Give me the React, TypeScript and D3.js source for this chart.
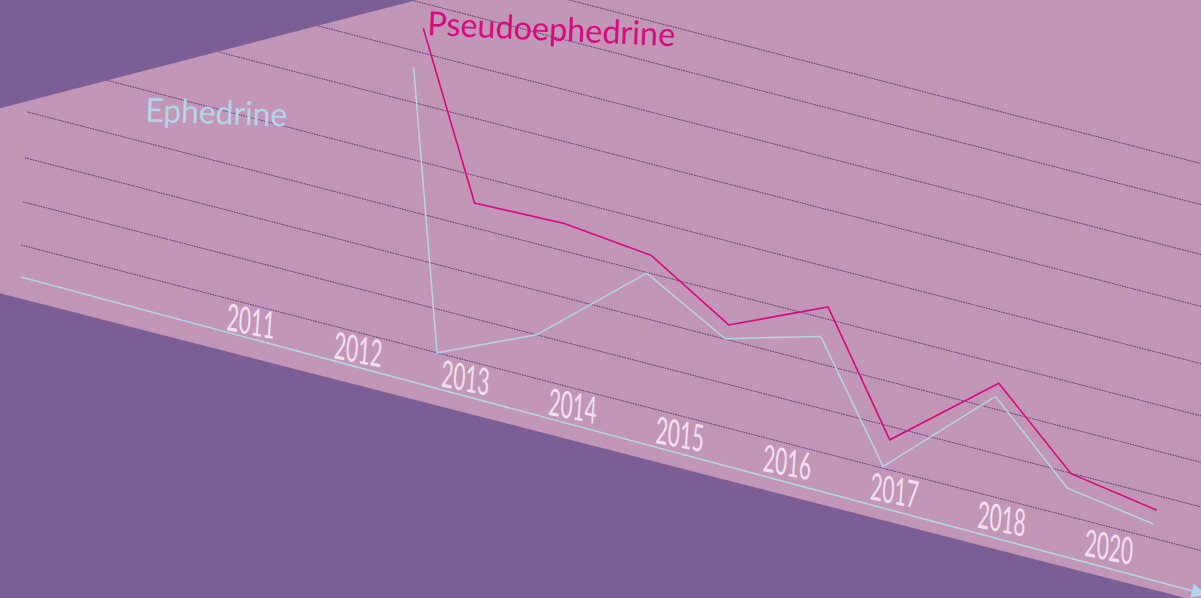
import React from "react";
import * as d3 from "d3";

// ---- data ----
const years = [2011, 2012, 2013, 2014, 2015, 2016, 2017, 2018, 2019, 2020];
const pseudoephedrine = [82.9, 41.2, 41.9, 39.5, 26.7, 38.0, 7.8, 29.7, 11.2, 7.5];
const ephedrine = [72.2, 0, 11.3, 34.6, 22.9, 29.9, 0.5, 26.1, 7.2, 3.7];
const gridValues = [0, 11.3, 22.8, 34.8, 48.3, 63.1, 76.5, 89.4, 100];
const yearLabels = ["2011", "2012", "2013", "2014", "2015", "2016", "2017", "2018", "2020"];
const seriesNames = ["Pseudoephedrine", "Ephedrine"];

// ---- layout / style ----
const W = 1201;
const H = 598;
const COLORS = {
  dark: "#7b5e96",
  band: "#c196b7",
  grid: "#583a74",
  blue: "#b5d4e8",
  magenta: "#d8097f",
  label: "#f2e0ee",
};
const ORIGIN = { x: 348, y: 329.7 };
const RUN = 0.259; // slope of value-baseline on screen
const LEAN = 0.25; // horizontal lean of the value direction
const AXIS_SLOPE = 0.268;

const x = d3.scaleLinear().domain([2011, 2020]).range([0, 802]);
const y = d3.scaleLinear().domain([0, 100]).range([0, 363.5]);
const labelPos = d3.scalePoint<string>().domain(yearLabels).range([250, 1108]);

function project(yr: number, v: number): [number, number] {
  const xs = x(yr);
  const hp = y(v);
  return [ORIGIN.x + xs + LEAN * hp, ORIGIN.y + RUN * xs - hp];
}

function gridY(sx: number, v: number) {
  const hp = y(v);
  return ORIGIN.y + RUN * (sx - ORIGIN.x - LEAN * hp) - hp;
}

const line = d3.line<[number, number]>().x((d) => d[0]).y((d) => d[1]);

export default function App() {
  const bandPts = [
    [0, 108.3],
    [417, 0],
    [W, 0],
    [W, 293.3 + 0.257 * W],
    [0, 293.3],
  ];
  const axisStart: [number, number] = [21, 277];
  const axisEndX = 1192;
  const axisEnd: [number, number] = [axisEndX, 277 + AXIS_SLOPE * (axisEndX - 21)];
  const len = Math.hypot(1, AXIS_SLOPE);
  const d = [1 / len, AXIS_SLOPE / len];
  const p = [-d[1], d[0]];
  const tip = [axisEnd[0] + 15 * d[0], axisEnd[1] + 15 * d[1]];
  const b1 = [axisEnd[0] + 7 * p[0], axisEnd[1] + 7 * p[1]];
  const b2 = [axisEnd[0] - 7 * p[0], axisEnd[1] - 7 * p[1]];

  const pseudoPts = years.map((yr, i) => project(yr, pseudoephedrine[i]));
  const ephPts = years.map((yr, i) => project(yr, ephedrine[i]));

  const labelSkew = 11;
  return (
    <svg
      width={W}
      height={H}
      style={{ position: "absolute", left: 0, top: 0, display: "block" }}
      fontFamily="Lato, 'Open Sans', sans-serif"
    >
      <defs>
        <clipPath id="band">
          <polygon points={bandPts.map((q) => q.join(",")).join(" ")} />
        </clipPath>
      </defs>
      <rect x={0} y={0} width={W} height={H} fill={COLORS.dark} />
      <polygon points={bandPts.map((q) => q.join(",")).join(" ")} fill={COLORS.band} />

      <g clipPath="url(#band)">
        {gridValues.map((v, i) => {
          const x0 = 21 + 0.048 * y(v);
          return (
            <line
              key={i}
              x1={x0}
              y1={gridY(x0, v)}
              x2={W}
              y2={gridY(W, v)}
              stroke={COLORS.grid}
              strokeWidth={1}
              strokeDasharray="1.6 1"
            />
          );
        })}
      </g>

      {/* axis */}
      <line
        x1={axisStart[0]}
        y1={axisStart[1]}
        x2={axisEnd[0]}
        y2={axisEnd[1]}
        stroke={COLORS.blue}
        strokeWidth={1.6}
      />
      <polygon
        points={[tip, b1, b2].map((q) => q.join(",")).join(" ")}
        fill={COLORS.blue}
      />

      {/* year labels */}
      {yearLabels.map((lab) => {
        const cx = labelPos(lab) as number;
        const cy = 340 + 0.263 * (cx - 270);
        return (
          <g key={lab} transform={`translate(${cx},${cy}) skewY(${labelSkew}) skewX(-4)`}>
            <text
              x={-24}
              y={0}
              fontSize={38}
              fill={COLORS.label}
              textLength={48}
              lengthAdjust="spacingAndGlyphs"
            >
              {lab}
            </text>
          </g>
        );
      })}

      {/* series */}
      <path d={line(ephPts) || ""} fill="none" stroke={COLORS.blue} strokeWidth={1.5} strokeLinejoin="miter" />
      <path d={line(pseudoPts) || ""} fill="none" stroke={COLORS.magenta} strokeWidth={1.6} strokeLinejoin="miter" />

      {/* series names */}
      <text
        transform="translate(427,35) rotate(2.6)"
        fontSize={33}
        fill={COLORS.magenta}
        textLength={248}
        lengthAdjust="spacingAndGlyphs"
      >
        {seriesNames[0]}
      </text>
      <text
        transform="translate(145,121.5) rotate(2)"
        fontSize={33}
        fill={COLORS.blue}
        textLength={142}
        lengthAdjust="spacingAndGlyphs"
      >
        {seriesNames[1]}
      </text>
    </svg>
  );
}
